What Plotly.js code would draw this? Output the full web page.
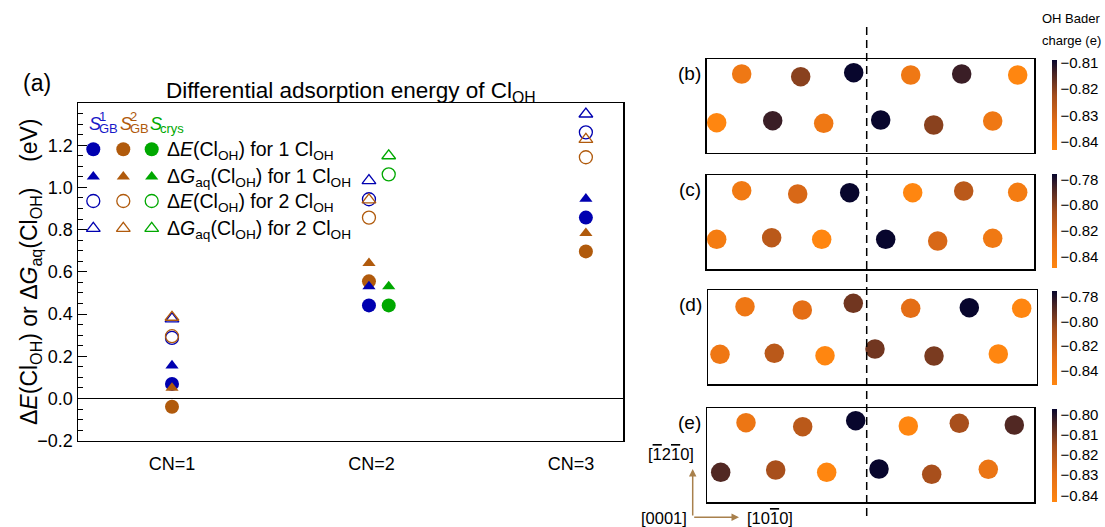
<!DOCTYPE html>
<html>
<head>
<meta charset="utf-8">
<script src="https://cdn.plot.ly/plotly-3.0.1.min.js"></script>
<style>html,body{margin:0;padding:0;background:#fff;}#chart{width:1105px;height:527px;}</style>
</head>
<body>
<div id="chart"></div>
<script>
// ---------------- DATA ----------------
const cnLabels = ['CN=1', 'CN=2', 'CN=3'];
const cnValues = [1, 2, 3];
const yTickVals = [-0.2, 0.0, 0.2, 0.4, 0.6, 0.8, 1.0, 1.2];

// S^1_GB (blue)
const s1_dE_1Cl = [0.069, 0.441, 0.857];
const s1_dG_1Cl = [0.156, 0.531, 0.946];
const s1_dE_2Cl = [0.287, 0.944, 1.261];
const s1_dG_2Cl = [0.377, 1.032, 1.348];
// S^2_GB (brown)
const s2_dE_1Cl = [-0.039, 0.555, 0.697];
const s2_dG_1Cl = [0.050, 0.641, 0.783];
const s2_dE_2Cl = [0.295, 0.857, 1.143];
const s2_dG_2Cl = [0.385, 0.941, 1.228];
// S_crys (green)
const sc_dE_1Cl = [null, 0.441, null];
const sc_dG_1Cl = [null, 0.531, null];
const sc_dE_2Cl = [null, 1.062, null];
const sc_dG_2Cl = [null, 1.150, null];

const legendTexts = [
  'Δ<i>E</i>(Cl<sub>OH</sub>) for 1 Cl<sub>OH</sub>',
  'Δ<i>G</i><sub>aq</sub>(Cl<sub>OH</sub>) for 1 Cl<sub>OH</sub>',
  'Δ<i>E</i>(Cl<sub>OH</sub>) for 2 Cl<sub>OH</sub>',
  'Δ<i>G</i><sub>aq</sub>(Cl<sub>OH</sub>) for 2 Cl<sub>OH</sub>'
];

// OH Bader charge maps (atom positions within each cell, and charges in e)
const panelLabels = ['(b)', '(c)', '(d)', '(e)'];
const atomsB_x = [35, 94, 147, 204, 255, 311, 10, 66, 117, 174, 227, 286];
const atomsB_y = [78.7, 76, 80, 77.7, 78.7, 77.7, 30, 32, 29.4, 32.7, 27.7, 31.7];
const atomsB_q = [-0.837, -0.820, -0.809, -0.837, -0.813, -0.843, -0.843, -0.813, -0.837, -0.809, -0.820, -0.837];
const atomsC_x = [35, 91, 143, 206, 257, 311, 10, 65, 115, 179, 231, 286];
const atomsC_y = [78.6, 75.3, 76.6, 76.6, 78.3, 77, 30, 31.6, 30, 30, 28.3, 31];
const atomsC_q = [-0.838, -0.823, -0.776, -0.849, -0.8125, -0.840, -0.840, -0.8125, -0.849, -0.776, -0.823, -0.837];
const atomsD_x = [36.7, 94, 145, 202.4, 261, 313.4, 11.7, 66, 116.7, 166.7, 225.7, 290];
const atomsD_y = [77.6, 74.3, 81, 76, 76.6, 76, 30, 31, 28.6, 35.3, 28.3, 30.3];
const atomsD_q = [-0.838, -0.829, -0.795, -0.829, -0.775, -0.852, -0.838, -0.8135, -0.852, -0.795, -0.797, -0.852];
const atomsE_x = [38.7, 95.4, 148.4, 201, 252, 307, 13.4, 68.4, 119.4, 171.7, 224.4, 281];
const atomsE_y = [79.6, 75.6, 81.6, 76.3, 79, 77.3, 30, 32.3, 30, 33.3, 28, 33];
const atomsE_q = [-0.834, -0.820, -0.797, -0.843, -0.816, -0.805, -0.805, -0.816, -0.843, -0.797, -0.816, -0.833];
const cbTicksB = [-0.81, -0.82, -0.83, -0.84];
const cbTicksC = [-0.78, -0.80, -0.82, -0.84];
const cbTicksD = [-0.78, -0.80, -0.82, -0.84];
const cbTicksE = [-0.80, -0.81, -0.82, -0.83, -0.84];

// ---------------- STYLE / LAYOUT ----------------
const W = 1105, H = 527;
const FONT = 'Liberation Sans, Arial, sans-serif';
const BLUE = '#0000B0', BROWN = '#B05A0C', GREEN = '#00A800';
const px = v => v / W;
const py = v => 1 - v / H;
// main plot frame in pixels
const MAIN = {l: 78, r: 623, t: 103, b: 440.7};
// x offsets of each site at each CN (visual separation)
const offS1 = [0, -0.013, 0.074], offS2 = [0, -0.013, 0.074], offSc = [0, 0.086, 0];

const sites = [
  {color: BLUE, off: offS1, data: [s1_dE_1Cl, s1_dG_1Cl, s1_dE_2Cl, s1_dG_2Cl]},
  {color: BROWN, off: offS2, data: [s2_dE_1Cl, s2_dG_1Cl, s2_dE_2Cl, s2_dG_2Cl]},
  {color: GREEN, off: offSc, data: [sc_dE_1Cl, sc_dG_1Cl, sc_dE_2Cl, sc_dG_2Cl]}
];
const qStyles = [
  {symbol: 'circle', size: 14, open: false},
  {symbol: 'triangle-up', size: 11.5, open: false},
  {symbol: 'circle-open', size: 13, open: true},
  {symbol: 'triangle-up-open', size: 12, open: true}
];

const traces = [];
for (let q = 0; q < 4; q++) {
  for (const s of sites) {
    const st = qStyles[q];
    traces.push({
      type: 'scatter', mode: 'markers', xaxis: 'x', yaxis: 'y', showlegend: false,
      x: cnValues.map((c, i) => c + s.off[i]), y: s.data[q],
      marker: {symbol: st.symbol, size: st.size, color: s.color,
               line: {color: s.color, width: st.open ? 1.3 : 0}},
      cliponaxis: false, hoverinfo: 'skip'
    });
  }
}

// custom legend keys (pixel coordinate overlay axis)
const legCols = [93.3, 123.3, 151.7];
const legRows = [149.3, 176.7, 201, 228.3];
const legColors = [BLUE, BROWN, GREEN];
for (let q = 0; q < 4; q++) {
  traces.push({
    type: 'scatter', mode: 'markers', xaxis: 'x6', yaxis: 'y6', showlegend: false,
    x: legCols, y: legCols.map(() => legRows[q]),
    marker: {symbol: qStyles[q].symbol, size: qStyles[q].size, color: legColors,
             line: {color: legColors, width: qStyles[q].open ? 1.3 : 0}},
    cliponaxis: false, hoverinfo: 'skip'
  });
}

// right panels
const boxes = [
  {l: 706.7, r: 1034.3, t: 59, b: 152.7, cb: [59.7, 150], ticks: cbTicksB, xs: atomsB_x, ys: atomsB_y, qs: atomsB_q},
  {l: 706.7, r: 1034.0, t: 175, b: 269.3, cb: [174, 268.3], ticks: cbTicksC, xs: atomsC_x, ys: atomsC_y, qs: atomsC_q},
  {l: 708.3, r: 1036.7, t: 290, b: 384.3, cb: [291, 385], ticks: cbTicksD, xs: atomsD_x, ys: atomsD_y, qs: atomsD_q},
  {l: 707.3, r: 1034.0, t: 408.3, b: 502.3, cb: [408.3, 501.7], ticks: cbTicksE, xs: atomsE_x, ys: atomsE_y, qs: atomsE_q}
];
const colorscale = [[0, 'rgb(255,134,16)'], [0.3, 'rgb(228,110,22)'], [0.6, 'rgb(165,78,28)'],
                    [0.85, 'rgb(72,36,36)'], [1, 'rgb(8,6,45)']];

const layout = {
  width: W, height: H, margin: {l: 0, r: 0, t: 0, b: 0, autoexpand: false},
  paper_bgcolor: '#fff', plot_bgcolor: 'rgba(0,0,0,0)', showlegend: false,
  font: {family: FONT, color: '#000'},
  xaxis: {domain: [px(MAIN.l), px(MAIN.r)], range: [0.529, 3.26], tickvals: cnValues, ticktext: cnLabels,
          ticks: '', showgrid: false, zeroline: false, showline: true, mirror: true, linecolor: '#000', linewidth: 1.5,
          tickfont: {size: 18, family: FONT}, ticklabelstandoff: 6, fixedrange: true},
  yaxis: {domain: [py(MAIN.b), py(MAIN.t)], range: [-0.2, 1.4], tickvals: yTickVals, tickformat: '.1f',
          ticks: 'inside', ticklen: 9, tickwidth: 1, tickcolor: '#000',
          minor: {tick0: 0, dtick: 0.05, ticks: 'inside', ticklen: 5, tickwidth: 1, tickcolor: '#000', showgrid: false},
          showgrid: false, zeroline: true, zerolinecolor: '#000', zerolinewidth: 1,
          showline: true, mirror: true, linecolor: '#000', linewidth: 1.5,
          tickfont: {size: 18, family: FONT}, fixedrange: true},
  xaxis6: {domain: [px(MAIN.l), px(MAIN.r)], range: [MAIN.l, MAIN.r], visible: false, fixedrange: true, anchor: 'y6'},
  yaxis6: {domain: [py(MAIN.b), py(MAIN.t)], range: [MAIN.b, MAIN.t], visible: false, fixedrange: true, anchor: 'x6'},
  annotations: [], shapes: []
};

const A = layout.annotations;
function ann(o) {
  A.push(Object.assign({xref: 'paper', yref: 'paper', xanchor: 'center', yanchor: 'middle', showarrow: false}, o));
}

boxes.forEach((b, i) => {
  const n = i + 2;
  const ca = i === 0 ? 'coloraxis' : 'coloraxis' + n;
  layout['xaxis' + n] = {domain: [px(b.l), px(b.r)], range: [0, b.r - b.l], anchor: 'y' + n,
    showline: true, mirror: true, linecolor: '#000', linewidth: 1.5, ticks: '', showticklabels: false,
    showgrid: false, zeroline: false, fixedrange: true};
  layout['yaxis' + n] = {domain: [py(b.b), py(b.t)], range: [0, b.b - b.t], anchor: 'x' + n,
    showline: true, mirror: true, linecolor: '#000', linewidth: 1.5, ticks: '', showticklabels: false,
    showgrid: false, zeroline: false, fixedrange: true};
  layout[ca] = {colorscale: colorscale, colorbar: {
    x: px(1051.7), xanchor: 'left', y: py((b.cb[0] + b.cb[1]) / 2), yanchor: 'middle',
    thickness: 5, thicknessmode: 'pixels', len: b.cb[1] - b.cb[0], lenmode: 'pixels',
    xpad: 0, ypad: 0, outlinewidth: 0, ticks: '', tickvals: b.ticks, tickformat: '.2f',
    tickfont: {size: 15, family: FONT}}};
  traces.push({type: 'scatter', mode: 'markers', xaxis: 'x' + n, yaxis: 'y' + n, showlegend: false,
    x: b.xs, y: b.ys, marker: {size: 19.5, color: b.qs, coloraxis: ca, line: {width: 0}}, hoverinfo: 'skip'});
  ann({text: panelLabels[i], x: px(b.l - 4), xanchor: 'right', y: py(b.t + 14), font: {size: 19}});
});

// panel (a) label + title
ann({text: '(a)', x: px(37), y: py(83), font: {size: 23}});
ann({text: 'Differential adsorption energy of Cl<sub>OH</sub>', x: px(351), y: py(92), font: {size: 22.5}});
// y-axis title
ann({text: 'Δ<i>E</i>(Cl<sub>OH</sub>) or Δ<i>G</i><sub>aq</sub>(Cl<sub>OH</sub>)&nbsp;&nbsp;&nbsp;&nbsp;(eV)',
  x: px(30), y: py(272), textangle: -90, font: {size: 23}});
// legend header
const hdr = [
  {x: 86.5, sup: '1', sub: 'GB', c: '#1818C8'},
  {x: 117.5, sup: '2', sub: 'GB', c: BROWN},
  {x: 147.5, sup: '', sub: 'crys', c: GREEN}
];
hdr.forEach(h => {
  ann({text: '<i>S</i>', xref: 'x6', yref: 'y6', x: h.x, y: 123.5, xanchor: 'left', font: {size: 18, color: h.c}});
  if (h.sup) ann({text: h.sup, xref: 'x6', yref: 'y6', x: h.x + 10, y: 116, xanchor: 'left', font: {size: 13, color: h.c}});
  ann({text: h.sub, xref: 'x6', yref: 'y6', x: h.x + 10, y: 128.5, xanchor: 'left', font: {size: 13, color: h.c}});
});
legendTexts.forEach((t, q) => {
  ann({text: t, xref: 'x6', yref: 'y6', x: 165, y: legRows[q] + 1, xanchor: 'left', font: {size: 19.5}});
});
// colorbar title
ann({text: 'OH Bader', x: px(1071), y: py(18), font: {size: 13}});
ann({text: 'charge (e)', x: px(1071), y: py(40), font: {size: 13}});
// crystal directions
const ARROW = '#A8804C';
A.push({text: '', xref: 'paper', yref: 'paper', x: px(692.7), y: py(469), ax: 0, ay: 48,
  showarrow: true, arrowhead: 2, arrowsize: 1, arrowwidth: 1.5, arrowcolor: ARROW});
A.push({text: '', xref: 'paper', yref: 'paper', x: px(739), y: py(517.3), ax: -46.3, ay: 0,
  showarrow: true, arrowhead: 2, arrowsize: 1, arrowwidth: 1.5, arrowcolor: ARROW});
const OL = d => '<span style="text-decoration:overline">' + d + '</span>';
ann({text: '[' + OL('1') + '2' + OL('1') + '0]', x: px(671), y: py(454), font: {size: 16.5}});
ann({text: '[0001]', x: px(664), y: py(518), font: {size: 16.5}});
ann({text: '[10' + OL('1') + '0]', x: px(770), y: py(518), font: {size: 16.5}});

// grain boundary dashed line
layout.shapes.push({type: 'line', xref: 'paper', yref: 'paper', x0: px(866.7), x1: px(866.7), y0: py(27), y1: py(516),
  line: {color: '#000', width: 1.5, dash: '8px,5px'}, layer: 'above'});

Plotly.newPlot('chart', traces, layout, {staticPlot: true, displayModeBar: false});
</script>
</body>
</html>
